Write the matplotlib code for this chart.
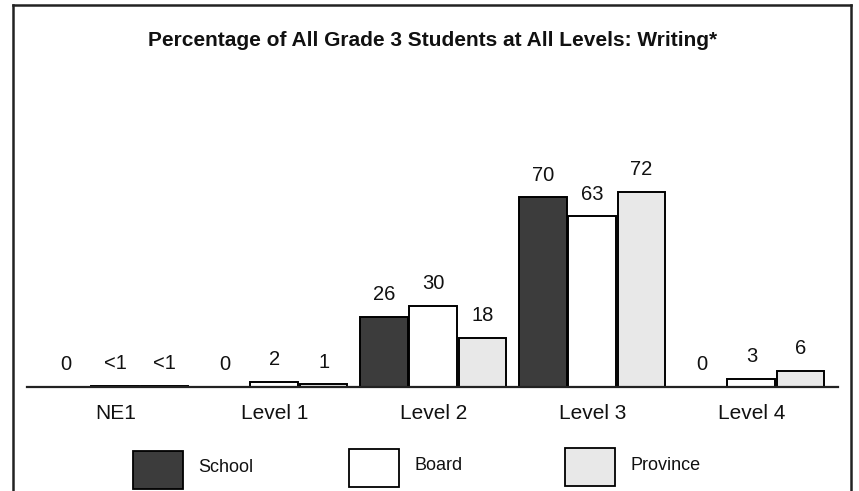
import matplotlib
matplotlib.use("Agg")
import matplotlib.pyplot as plt
from matplotlib.patches import Rectangle
from matplotlib.lines import Line2D
import numpy as np

categories = ["NE1", "Level 1", "Level 2", "Level 3", "Level 4"]
school = [0, 0, 26, 70, 0]
board = [0.4, 2, 30, 63, 3]
province = [0.4, 1, 18, 72, 6]
school_labels = ["0", "0", "26", "70", "0"]
board_labels = ["<1", "2", "30", "63", "3"]
province_labels = ["<1", "1", "18", "72", "6"]
series_names = ["School", "Board", "Province"]
title = "Percentage of All Grade 3 Students at All Levels: Writing*"

colors = ["#3c3c3c", "#ffffff", "#e8e8e8"]
FONT = ["Liberation Sans", "DejaVu Sans"]
plt.rcParams['font.family'] = FONT

W, H = 859, 491
fig = plt.figure(figsize=(W / 100, H / 100), dpi=100)

def fx(px):
    return px / W

def fy(py):
    return 1 - py / H

ax_left, ax_right, ax_top, ax_base = 27, 838, 60, 387
ax = fig.add_axes([fx(ax_left), fy(ax_base), fx(ax_right - ax_left), (ax_base - ax_top) / H])
scale = 2.71
ax.set_ylim(0, (ax_base - ax_top) / scale)
ax.set_xlim(-0.555, 4.545)

x = np.arange(len(categories))
width = 0.30
offs = [-0.31, 0.0, 0.31]
data = [school, board, province]
labels = [school_labels, board_labels, province_labels]
for i in range(3):
    bars = ax.bar(x + offs[i], data[i], width, color=colors[i], edgecolor="black",
                  linewidth=1.4, label=series_names[i], zorder=2)
    for b, lab in zip(bars, labels[i]):
        ax.annotate(lab, (b.get_x() + b.get_width() / 2, b.get_height()),
                    xytext=(0, 16), textcoords="offset points",
                    ha="center", va="center", fontsize=14.5, color="#111111")

for xi, c in zip(x, categories):
    ax.annotate(c, (xi, 0), xytext=(0, -19), textcoords="offset points",
                ha="center", va="center", fontsize=15, color="#111111")

for s in ["top", "right", "left"]:
    ax.spines[s].set_visible(False)
ax.spines["bottom"].set_linewidth(1.6)
ax.spines["bottom"].set_color("#222222")
ax.set_xticks([])
ax.set_yticks([])
ax.patch.set_alpha(0)

fig.text(fx(433), fy(40), title, ha="center", va="center", fontsize=15,
         fontweight="bold", color="#111111")

# legend
leg_boxes = [(133, 451), (349, 449), (565, 448)]
for (bx, by), name, col in zip(leg_boxes, series_names, colors):
    fig.patches.append(Rectangle((fx(bx), fy(by + 38)), fx(50), 38 / H,
                                 transform=fig.transFigure, facecolor=col,
                                 edgecolor="black", linewidth=1.3))
    fig.text(fx(bx + 65), fy(by + 17), name, ha="left", va="center",
             fontsize=13, color="#111111")

# frame
lw = 1.8
fig.add_artist(Line2D([fx(13), fx(13)], [fy(5), 0], color="#222222", lw=lw))
fig.add_artist(Line2D([fx(13), fx(851)], [fy(5), fy(5)], color="#222222", lw=lw))
fig.add_artist(Line2D([fx(851), fx(851)], [fy(5), 0], color="#222222", lw=lw))

fig.savefig("out.png", dpi=100)
